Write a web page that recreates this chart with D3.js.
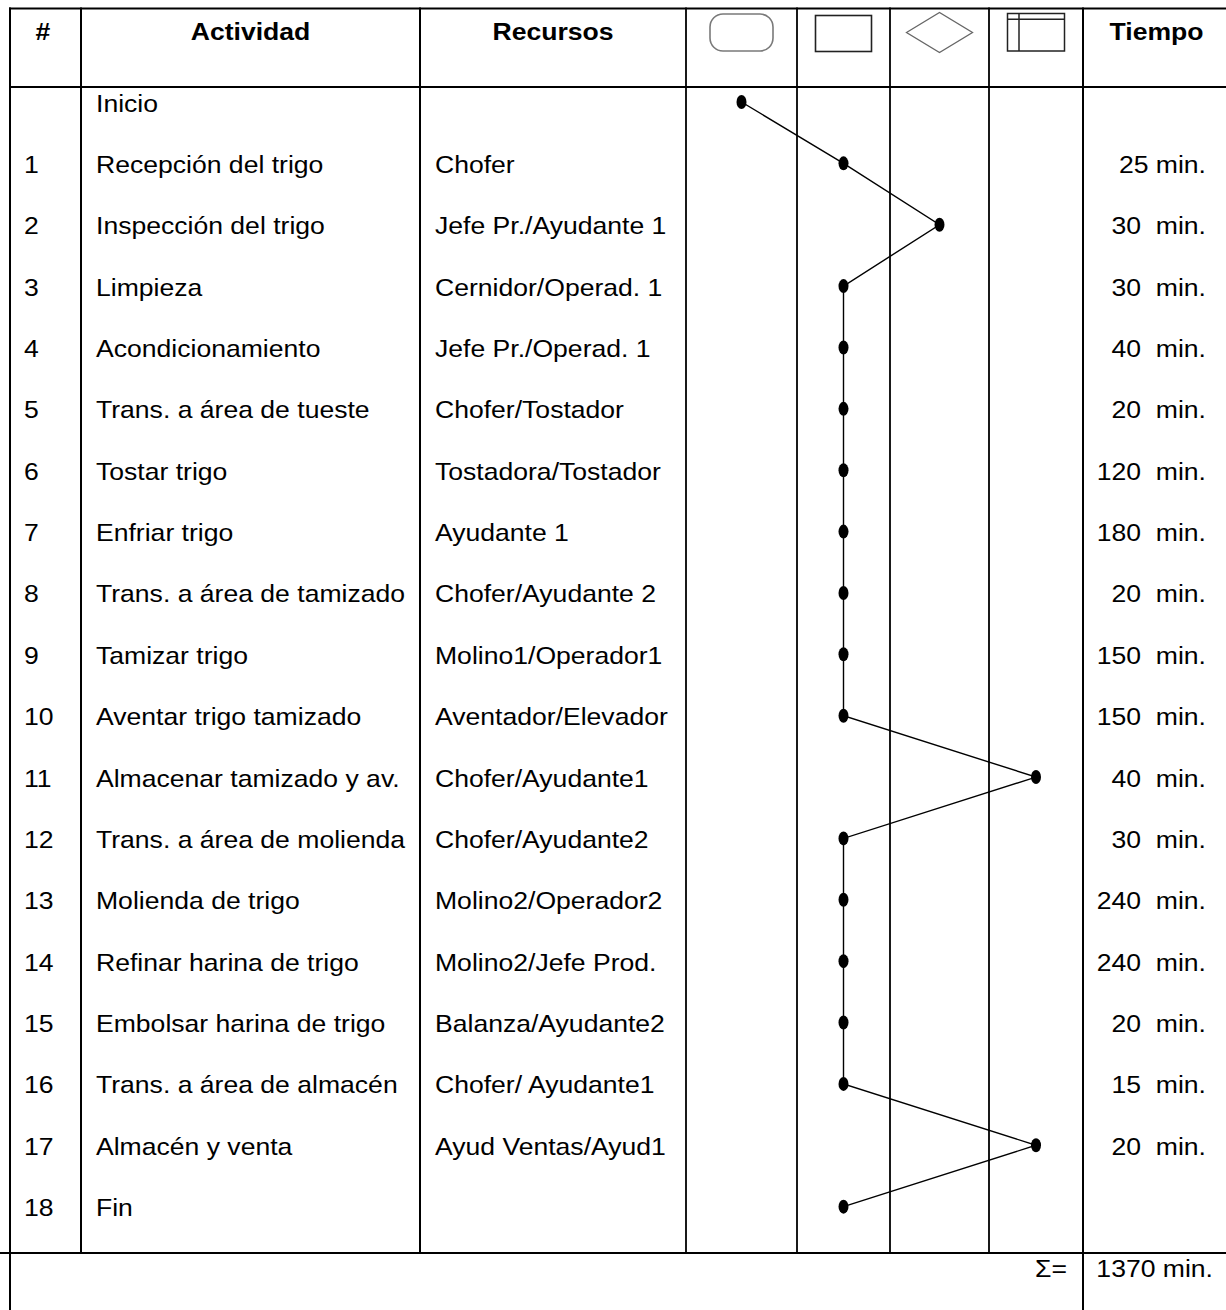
<!DOCTYPE html>
<html><head><meta charset="utf-8">
<script src="https://cdn.jsdelivr.net/npm/d3@7"></script>
<style>
body{margin:0;background:#fff}
text{font-family:"Liberation Sans",Arial,sans-serif;white-space:pre;fill:#000}
</style>
</head><body><svg id="c" width="1226" height="1310"></svg>
<script>
// ---- data ----
const nums = ["", "1","2","3","4","5","6","7","8","9","10","11","12","13","14","15","16","17","18"];
const activities = ["Inicio","Recepción del trigo","Inspección del trigo","Limpieza","Acondicionamiento",
  "Trans. a área de tueste","Tostar trigo","Enfriar trigo","Trans. a área de tamizado","Tamizar trigo",
  "Aventar trigo tamizado","Almacenar tamizado y av.","Trans. a área de molienda","Molienda de trigo",
  "Refinar harina de trigo","Embolsar harina de trigo","Trans. a área de almacén","Almacén y venta","Fin"];
const resources = ["","Chofer","Jefe Pr./Ayudante 1","Cernidor/Operad. 1","Jefe Pr./Operad. 1",
  "Chofer/Tostador","Tostadora/Tostador","Ayudante 1","Chofer/Ayudante 2","Molino1/Operador1",
  "Aventador/Elevador","Chofer/Ayudante1","Chofer/Ayudante2","Molino2/Operador2","Molino2/Jefe Prod.",
  "Balanza/Ayudante2","Chofer/ Ayudante1","Ayud Ventas/Ayud1",""];
const timeValues = [null,25,30,30,40,20,120,180,20,150,150,40,30,240,240,20,15,20,null];
const timeLabels = ["","25 min.","30  min.","30  min.","40  min.","20  min.","120  min.","180  min.",
  "20  min.","150  min.","150  min.","40  min.","30  min.","240  min.","240  min.","20  min.",
  "15  min.","20  min.",""];
// symbol column per step: 0 terminal, 1 operation, 2 inspection, 3 storage
const symbolIndex = [0,1,2,1,1,1,1,1,1,1,1,3,1,1,1,1,1,3,1];
const headers = ["#","Actividad","Recursos","Tiempo"];
const symbolNames = ["terminal","process","decision","storage"];

// ---- layout ----
const W = 1226, H = 1310;
const colEdges = [10, 81, 420, 686, 797, 890, 989, 1083, 1228];
const topY = 8.5, headBottom = 87, bodyBottom = 1253;
const SX = 1.08, FS = 24.6;

const svg = d3.select("#c");
const y = d3.scaleBand().domain(d3.range(activities.length)).range([headBottom, bodyBottom]);
const symCenters = [3,4,5,6].map(i => (colEdges[i] + colEdges[i+1]) / 2);
const xSym = d3.scaleOrdinal().domain(d3.range(symbolNames.length)).range(symCenters);

function txt(x, yy, s, anchor, bold) {
  svg.append("text")
    .attr("transform", `translate(${x},${yy}) scale(${SX},1)`)
    .attr("text-anchor", anchor || "start")
    .attr("font-size", FS)
    .attr("font-weight", bold ? "bold" : "normal")
    .text(s);
}

// ---- grid lines ----
const grid = svg.append("g").attr("stroke", "#000").attr("stroke-width", 2);
grid.append("line").attr("x1", 9).attr("x2", W).attr("y1", topY).attr("y2", topY);
grid.append("line").attr("x1", 9).attr("x2", W).attr("y1", headBottom).attr("y2", headBottom);
grid.append("line").attr("x1", 0).attr("x2", W).attr("y1", bodyBottom).attr("y2", bodyBottom);
colEdges.forEach((x, i) => {
  const full = (i === 0 || i === 7);
  grid.append("line").attr("x1", x).attr("x2", x).attr("y1", topY - 1)
    .attr("y2", full ? H : bodyBottom)
    .attr("stroke-width", (i >= 3 && i <= 6) ? 1.8 : 2);
});

// ---- header ----
const hb = 40;
txt(43, hb, headers[0], "middle", true);
txt((colEdges[1] + colEdges[2]) / 2, hb, headers[1], "middle", true);
txt((colEdges[2] + colEdges[3]) / 2, hb, headers[2], "middle", true);
txt((colEdges[7] + 1226) / 2 + 2, hb, headers[3], "middle", true);

// header symbols
const sy = 32.5;
symbolNames.forEach((name, i) => {
  const cx = xSym(i);
  if (name === "terminal") {
    svg.append("rect").attr("x", cx - 31.5).attr("y", sy - 18.5).attr("width", 63).attr("height", 37)
      .attr("rx", 13).attr("fill", "none").attr("stroke", "#7a7a7a").attr("stroke-width", 1.6);
  } else if (name === "process") {
    svg.append("rect").attr("x", cx - 28).attr("y", sy - 17).attr("width", 56).attr("height", 36)
      .attr("fill", "none").attr("stroke", "#222").attr("stroke-width", 1.6);
  } else if (name === "decision") {
    svg.append("path").attr("d", `M${cx-33},${sy} L${cx},${sy-20} L${cx+33},${sy} L${cx},${sy+20} Z`)
      .attr("fill", "none").attr("stroke", "#666").attr("stroke-width", 1.3);
  } else {
    const x0 = cx - 28.5, y0 = sy - 19;
    svg.append("rect").attr("x", x0).attr("y", y0).attr("width", 57).attr("height", 37.5)
      .attr("fill", "none").attr("stroke", "#222").attr("stroke-width", 1.5);
    svg.append("line").attr("x1", x0 + 11.5).attr("x2", x0 + 11.5).attr("y1", y0).attr("y2", y0 + 37.5)
      .attr("stroke", "#222").attr("stroke-width", 1.5);
    svg.append("line").attr("x1", x0).attr("x2", x0 + 57).attr("y1", y0 + 5.8).attr("y2", y0 + 5.8)
      .attr("stroke", "#222").attr("stroke-width", 1.5);
  }
});

// ---- body text ----
const base = i => y(i) + 24.5;
activities.forEach((a, i) => {
  if (nums[i]) txt(24, base(i), nums[i], "start");
  txt(96, base(i), a, "start");
  if (resources[i]) txt(435, base(i), resources[i], "start");
  if (timeLabels[i]) txt(1206, base(i), timeLabels[i], "end");
});

// ---- flow line and dots ----
const pts = symbolIndex.map((s, i) => [xSym(s), y(i) + 15]);
svg.append("path").attr("d", d3.line()(pts)).attr("fill", "none")
  .attr("stroke", "#000").attr("stroke-width", 1.4);
svg.selectAll("ellipse.dot").data(pts).enter().append("ellipse")
  .attr("cx", d => d[0]).attr("cy", d => d[1]).attr("rx", 5).attr("ry", 7).attr("fill", "#000");

// ---- total row ----
txt(1067, 1277, "Σ=", "end");
txt(1213, 1277, d3.sum(timeValues.filter(v => v != null)) + " min.", "end");
</script>
</body></html>
